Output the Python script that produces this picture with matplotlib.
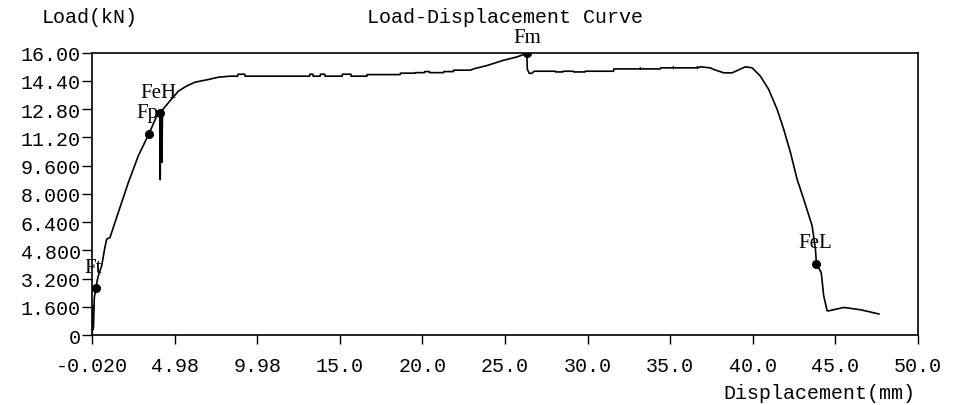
import numpy as np
import matplotlib
matplotlib.use("Agg")
import matplotlib.pyplot as plt

# load-displacement record
disp = [0.00, 0.02, 0.03, 0.07, 0.12, 0.22, 0.30, 0.36, 0.57, 0.75, 0.87, 1.07,
        1.57, 2.18, 2.78, 3.43, 3.90, 4.10, 4.11, 4.14, 4.20, 4.21, 4.25, 4.60,
        5.21, 5.70, 6.22, 7.02, 7.63, 8.34, 8.80, 8.82, 9.23, 9.25, 13.15, 13.17,
        13.35, 13.37, 13.79, 13.81, 14.07, 14.09, 15.12, 15.14, 15.65, 15.67,
        16.62, 16.64, 18.63, 18.65, 19.54, 19.56, 20.10, 20.12, 20.40, 20.42,
        21.26, 21.28, 21.86, 21.88, 22.87, 23.07, 23.88, 24.89, 25.70, 26.30,
        26.33, 26.45, 26.60, 26.75, 28.02, 28.04, 28.49, 28.51, 29.11, 29.13,
        29.82, 29.84, 31.55, 31.57, 33.15, 33.17, 33.19, 34.38, 34.40, 35.15,
        35.17, 35.19, 36.60, 36.62, 36.64, 36.81, 37.41, 37.61, 38.22, 38.73,
        39.20, 39.53, 39.94, 40.44, 40.94, 41.45, 41.85, 42.26, 42.66, 43.06,
        43.57, 43.77, 43.83, 44.12, 44.27, 44.48, 44.58, 45.49, 46.50, 47.61]
load = [0.10, 1.66, 0.30, 0.40, 2.10, 2.66, 3.10, 3.35, 3.92, 4.90, 5.43, 5.52,
        6.93, 8.63, 10.14, 11.40, 12.40, 12.59, 8.80, 12.55, 12.62, 9.78, 12.75, 13.15,
        13.81, 14.10, 14.32, 14.47, 14.60, 14.66, 14.66, 14.77, 14.77, 14.66, 14.66, 14.77,
        14.77, 14.66, 14.66, 14.77, 14.77, 14.66, 14.66, 14.77, 14.77, 14.66,
        14.66, 14.75, 14.75, 14.83, 14.83, 14.86, 14.86, 14.92, 14.92, 14.86,
        14.86, 14.92, 14.92, 15.00, 15.00, 15.07, 15.26, 15.56, 15.75, 15.95,
        15.05, 14.82, 14.82, 14.94, 14.94, 14.90, 14.90, 14.94, 14.94, 14.90,
        14.90, 14.94, 14.94, 15.07, 15.07, 15.13, 15.07, 15.07, 15.13, 15.13,
        15.19, 15.13, 15.13, 15.19, 15.13, 15.19, 15.13, 15.04, 14.85, 14.85,
        15.05, 15.19, 15.13, 14.66, 13.91, 12.78, 11.65, 10.33, 8.82, 7.69,
        6.18, 4.86, 4.01, 3.54, 2.22, 1.37, 1.37, 1.56, 1.43, 1.19]

# characteristic points
mark_names = ["Ft", "Fp", "FeH", "Fm", "FeL"]
mark_disp = [0.22, 3.43, 4.10, 26.30, 43.83]
mark_load = [2.66, 11.40, 12.59, 15.95, 4.01]
# label offsets in pixels (the Fm label sits a bit lower, under the title)
mark_offsets = {"Ft": (-3, 21), "Fp": (-2, 21), "FeH": (-2, 20),
                "Fm": (0, 16), "FeL": (-1, 22)}

x_ticks = [-0.02 + 5 * k for k in range(11)]
x_labels = ["-0.020", "4.98", "9.98", "15.0", "20.0", "25.0",
            "30.0", "35.0", "40.0", "45.0", "50.0"]
y_ticks = [1.6 * k for k in range(11)]
y_labels = ["0", "1.600", "3.200", "4.800", "6.400", "8.000",
            "9.600", "11.20", "12.80", "14.40", "16.00"]

mono = "Liberation Mono"
fs = 14.4

fig = plt.figure(figsize=(9.61, 4.06), dpi=100)
ax = fig.add_axes([0.0957, 0.1724, 0.8596, 0.6958])

ax.plot(disp, load, color="black", lw=1.2)
ax.plot(mark_disp, mark_load, "o", color="black", ms=5.5)
for name, xv, yv in zip(mark_names, mark_disp, mark_load):
    ax.annotate(name, (xv, yv), xytext=mark_offsets[name], textcoords="offset pixels",
                ha="center", va="center", family="Liberation Serif", fontsize=15)

ax.set_xlim(-0.02, 49.98)
ax.set_ylim(0, 16)
ax.set_xticks(x_ticks)
ax.set_xticklabels(x_labels, family=mono, fontsize=fs)
ax.set_yticks(y_ticks)
ax.set_yticklabels(y_labels, family=mono, fontsize=fs)
ax.tick_params(axis="y", length=7.5, width=1, pad=0.5)
ax.tick_params(axis="x", length=6.5, width=1, pad=8.5)
for sp in ax.spines.values():
    sp.set_linewidth(1.2)

cx = (0.0957 + 0.9553) / 2
fig.text(cx, 0.9557, "Load-Displacement Curve", ha="center", va="center",
         family=mono, fontsize=fs)
fig.text(0.0437, 0.9557, "Load(kN)", ha="left", va="center",
         family=mono, fontsize=fs)
fig.text(0.953, 0.0320, "Displacement(mm)", ha="right", va="center",
         family=mono, fontsize=fs)

fig.savefig("out.png", dpi=100)
